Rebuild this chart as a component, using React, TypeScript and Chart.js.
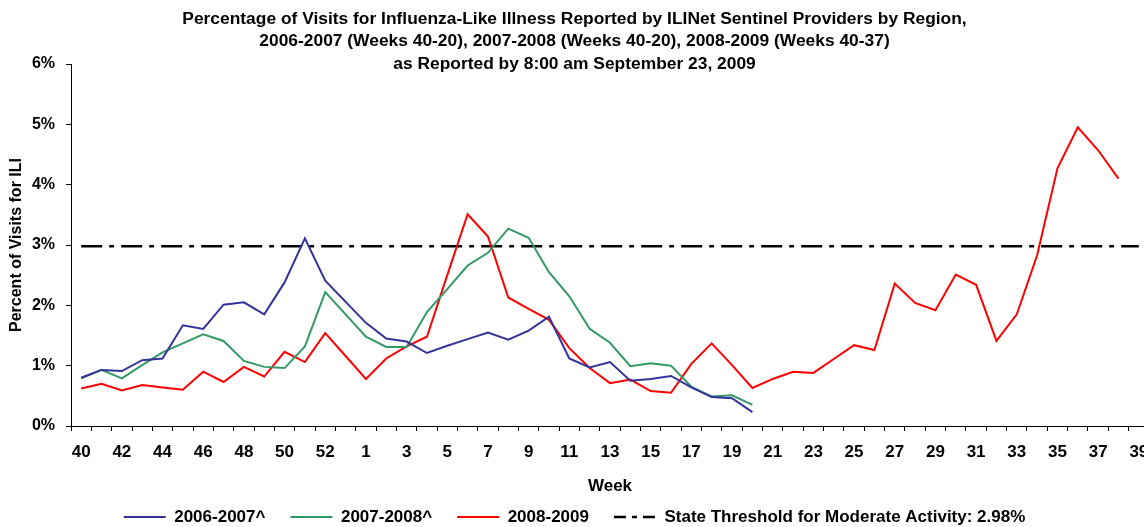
import React, { useEffect, useRef } from 'react';
import { Chart, registerables } from 'chart.js';

Chart.register(...registerables);

const titleLines = [
  'Percentage of Visits for Influenza-Like Illness Reported by ILINet Sentinel Providers by Region,',
  '2006-2007 (Weeks 40-20), 2007-2008 (Weeks 40-20), 2008-2009 (Weeks 40-37)',
  'as Reported by 8:00 am September 23, 2009',
];

const weekLabels = [
  '40', '41', '42', '43', '44', '45', '46', '47', '48', '49', '50', '51', '52', '53',
  '1', '2', '3', '4', '5', '6', '7', '8', '9', '10', '11', '12', '13', '14', '15', '16',
  '17', '18', '19', '20', '21', '22', '23', '24', '25', '26', '27', '28', '29', '30', '31',
  '32', '33', '34', '35', '36', '37', '38', '39',
];

const season0607 = [
  0.80, 0.93, 0.91, 1.09, 1.12, 1.67, 1.61, 2.01, 2.05, 1.85, 2.38, 3.11, 2.41, null,
  1.71, 1.45, 1.40, 1.21, 1.33, 1.44, 1.55, 1.43, 1.58, 1.81, 1.12, 0.97, 1.06, 0.75,
  0.78, 0.83, 0.64, 0.48, 0.46, 0.23,
  null, null, null, null, null, null, null, null, null, null, null, null, null, null,
  null, null, null, null, null,
];

const season0708 = [
  0.79, 0.93, 0.79, 1.01, 1.22, 1.37, 1.52, 1.41, 1.08, 0.98, 0.96, 1.32, 2.22, null,
  1.48, 1.31, 1.31, 1.89, 2.27, 2.66, 2.87, 3.27, 3.12, 2.55, 2.15, 1.61, 1.38, 0.99,
  1.04, 1.00, 0.65, 0.49, 0.51, 0.35,
  null, null, null, null, null, null, null, null, null, null, null, null, null, null,
  null, null, null, null, null,
];

const season0809 = [
  0.62, 0.70, 0.59, 0.68, 0.64, 0.60, 0.90, 0.73, 0.98, 0.82, 1.23, 1.06, 1.54, 1.16,
  0.78, 1.12, 1.32, 1.48, 2.50, 3.51, 3.14, 2.13, 1.94, 1.76, 1.29, 0.96, 0.71, 0.77,
  0.58, 0.55, 1.03, 1.37, 1.01, 0.63, 0.78, 0.90, 0.88, 1.11, 1.34, 1.26, 2.36, 2.04,
  1.92, 2.51, 2.34, 1.41, 1.85, 2.83, 4.27, 4.95, 4.57, 4.10, null,
];

const thresholdValue = 2.98;
const thresholdLabel = 'State Threshold for Moderate Activity: 2.98%';

const seriesNames = ['2006-2007^', '2007-2008^', '2008-2009'];
const seriesColors = ['#333399', '#339966', '#FF0000'];

const yTickValues = [0, 1, 2, 3, 4, 5, 6];

const FONT = '"Liberation Sans", Arial, Helvetica, sans-serif';

export default function App() {
  const canvasRef = useRef<HTMLCanvasElement | null>(null);

  useEffect(() => {
    if (!canvasRef.current) return;
    Chart.defaults.font.family = FONT;
    Chart.defaults.color = '#000';

    const seriesData = [season0607, season0708, season0809];
    const datasets: any[] = seriesData.map((d, i) => ({
      label: seriesNames[i],
      data: d,
      borderColor: seriesColors[i],
      backgroundColor: seriesColors[i],
      borderWidth: 2,
      pointRadius: 0,
      pointHoverRadius: 0,
      tension: 0,
      spanGaps: true,
      fill: false,
    }));
    datasets.push({
      label: thresholdLabel,
      data: weekLabels.map(() => thresholdValue),
      borderColor: '#000000',
      backgroundColor: '#000000',
      borderWidth: 2.5,
      borderDash: [21, 7, 5, 7],
      pointRadius: 0,
      pointHoverRadius: 0,
      tension: 0,
      fill: false,
    });

    const chart = new Chart(canvasRef.current, {
      type: 'line',
      data: { labels: weekLabels, datasets },
      options: {
        animation: false,
        responsive: true,
        maintainAspectRatio: false,
        events: [],
        layout: { padding: { left: 0, right: 21, top: 0, bottom: 0 } },
        plugins: {
          tooltip: { enabled: false },
          title: {
            display: true,
            text: titleLines,
            color: '#000',
            font: { size: 17.4, weight: 'bold', lineHeight: '22.5px' },
            padding: { top: 7.75, bottom: -11.25 },
          },
          legend: {
            display: true,
            position: 'bottom',
            maxHeight: 43.5,
            labels: {
              usePointStyle: true,
              pointStyle: 'line',
              pointStyleWidth: 42,
              padding: 25,
              color: '#000',
              font: { size: 17, weight: 'bold' },
              generateLabels: (c: any) => {
                const items = Chart.defaults.plugins.legend.labels.generateLabels(c);
                return items.map((it: any) => {
                  const ds = c.data.datasets[it.datasetIndex];
                  return {
                    ...it,
                    pointStyle: 'line',
                    strokeStyle: ds.borderColor,
                    fillStyle: ds.borderColor,
                    lineWidth: ds.borderWidth,
                    lineDash: ds.borderDash ? [12, 6, 5, 6] : [],
                    fontColor: '#000',
                  };
                });
              },
            },
          },
        },
        scales: {
          x: {
            type: 'category',
            offset: true,
            afterFit: (scale: any) => {
              scale.height = 57.5;
            },
            grid: {
              offset: true,
              drawOnChartArea: false,
              drawTicks: true,
              tickLength: 5,
              color: '#000',
              lineWidth: 1,
            },
            border: { display: true, color: '#000', width: 1 },
            ticks: {
              autoSkip: false,
              maxRotation: 0,
              minRotation: 0,
              padding: 11,
              color: '#000',
              font: { size: 17, weight: 'bold' },
              callback: (_v: any, i: number) => (i % 2 === 0 ? weekLabels[i] : ''),
            },
            title: {
              display: true,
              text: 'Week',
              color: '#000',
              font: { size: 17, weight: 'bold' },
              padding: { top: 0, bottom: -12.7 },
            },
          },
          y: {
            min: yTickValues[0],
            max: yTickValues[yTickValues.length - 1],
            afterFit: (scale: any) => {
              scale.width = 71;
            },
            afterBuildTicks: (scale: any) => {
              scale.ticks = yTickValues.map((v) => ({ value: v }));
            },
            grid: {
              drawOnChartArea: false,
              drawTicks: true,
              tickLength: 5,
              color: '#000',
              lineWidth: 1,
            },
            border: { display: true, color: '#000', width: 1 },
            ticks: {
              padding: 11,
              color: '#000',
              font: { size: 16, weight: 'bold' },
              callback: (v: any) => `${v}%`,
            },
            title: {
              display: true,
              text: 'Percent of Visits for ILI',
              color: '#000',
              font: { size: 16, weight: 'bold' },
              padding: { top: 7.4, bottom: 0 },
            },
          },
        },
      },
    });

    return () => {
      chart.destroy();
    };
  }, []);

  return (
    <div
      style={{
        position: 'fixed',
        left: 0,
        top: 0,
        width: 1144,
        height: 527,
        overflow: 'hidden',
        background: '#fff',
      }}
    >
      <div style={{ position: 'relative', width: 1170, height: 527 }}>
        <canvas ref={canvasRef} />
      </div>
    </div>
  );
}
